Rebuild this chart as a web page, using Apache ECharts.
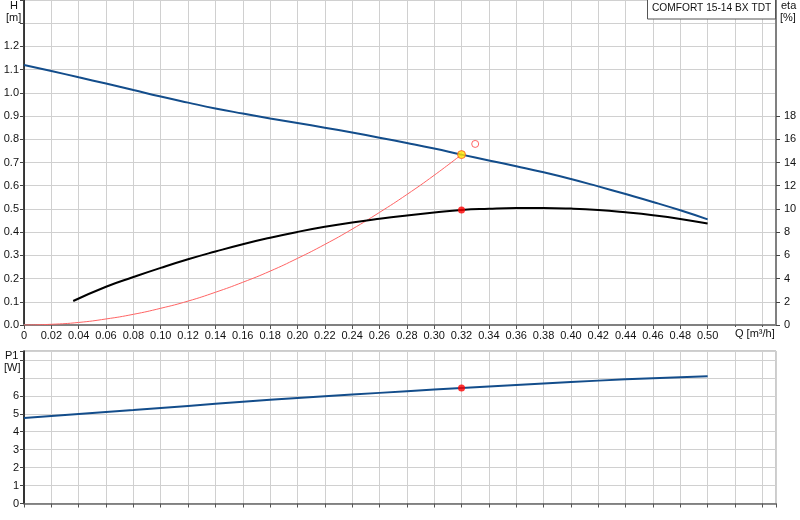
<!DOCTYPE html>
<html><head><meta charset="utf-8">
<script src="https://cdn.jsdelivr.net/npm/echarts@6/dist/echarts.min.js"></script>
<style>html,body{margin:0;padding:0;background:#fff}#c{width:800px;height:520px}</style>
</head><body><div id="c"></div>
<script>
// Pump curve H [m] vs Q [m3/h]
const qH = [0,0.02,0.04,0.06,0.08,0.10,0.12,0.14,0.16,0.18,0.20,0.22,0.24,0.26,0.28,0.30,0.32,0.34,0.36,0.38,0.40,0.42,0.44,0.46,0.48,0.50];
const hVals = [1.120,1.094,1.067,1.040,1.012,0.984,0.958,0.933,0.911,0.890,0.870,0.850,0.829,0.807,0.784,0.760,0.734,0.709,0.684,0.658,0.629,0.597,0.564,0.530,0.494,0.455];
// Efficiency eta [%]
const qEta = [0.036,0.06,0.08,0.10,0.12,0.14,0.16,0.18,0.20,0.22,0.24,0.26,0.28,0.30,0.32,0.34,0.36,0.38,0.40,0.42,0.44,0.46,0.48,0.50];
const etaVals = [2.07,3.30,4.13,4.92,5.66,6.33,6.96,7.52,8.02,8.46,8.84,9.16,9.44,9.69,9.91,10.01,10.07,10.08,10.03,9.91,9.71,9.46,9.14,8.74];
// System curve H [m]
const qSys = [0,0.02,0.04,0.06,0.08,0.10,0.12,0.14,0.16,0.18,0.20,0.22,0.24,0.26,0.28,0.30,0.32];
const sysVals = [0,0.003,0.011,0.026,0.046,0.072,0.103,0.141,0.184,0.232,0.287,0.347,0.413,0.485,0.562,0.645,0.734];
// Power P1 [W]
const qP = [0,0.04,0.08,0.12,0.16,0.20,0.24,0.28,0.32,0.36,0.40,0.44,0.48,0.50];
const pVals = [4.76,4.99,5.21,5.44,5.67,5.88,6.07,6.26,6.44,6.61,6.77,6.92,7.04,7.09];
// Duty point and requested point
const dutyQ = 0.32, dutyH = 0.734, dutyEta = 9.91, dutyP = 6.44;
const reqQ = 0.33, reqH = 0.78;
// Tick labels
const etaTicks = [0,2,4,6,8,10,12,14,16,18];
const titleText = 'COMFORT 15-14 BX TDT';

const zip = (xs, ys) => xs.map((x, i) => [x, ys[i]]);
const FONT = "'Liberation Sans', Arial, sans-serif";
const lab = {color:'#111', fontSize:11, fontFamily:FONT};
const splitL = {show:true, lineStyle:{color:'#d0d0d0', width:1}};

const chart = echarts.init(document.getElementById('c'), null, {renderer:'canvas'});
chart.setOption({
  animation:false,
  backgroundColor:'#fff',
  grid:[
    {left:24, right:24, top:0, height:325},
    {left:24, right:24, top:351, height:152.5, show:true, borderColor:'#999', borderWidth:1, backgroundColor:'transparent'}
  ],
  xAxis:[
    {gridIndex:0, type:'value', min:0, max:0.55, interval:0.02,
     axisLine:{show:true, onZero:false, lineStyle:{color:'#808080', width:2}},
     axisTick:{show:true, length:4, lineStyle:{color:'#555'}},
     axisLabel:Object.assign({margin:5, showMaxLabel:false, formatter:v => v===0 ? '0' : (v>0.5001 ? '' : v.toFixed(2))}, lab),
     splitLine:splitL},
    {gridIndex:1, type:'value', min:0, max:0.55, interval:0.02,
     axisLine:{show:true, onZero:false, lineStyle:{color:'#666', width:1.5}},
     axisTick:{show:true, length:4, lineStyle:{color:'#555'}},
     axisLabel:{show:false},
     splitLine:splitL}
  ],
  yAxis:[
    {gridIndex:0, type:'value', min:0, max:1.4, interval:0.1,
     axisLine:{show:true, lineStyle:{color:'#000', width:1.5}},
     axisTick:{show:true, length:4, lineStyle:{color:'#444'}},
     axisLabel:Object.assign({margin:5, formatter:v => v>1.2001 ? '' : v.toFixed(1)}, lab),
     splitLine:splitL},
    {gridIndex:0, type:'value', min:0, max:28, interval:2, position:'right',
     axisLine:{show:true, lineStyle:{color:'#808080', width:2}},
     axisTick:{show:true, length:4, customValues:etaTicks, lineStyle:{color:'#444'}},
     axisLabel:Object.assign({margin:8, customValues:etaTicks, formatter:v => String(v)}, lab),
     splitLine:{show:false}},
    {gridIndex:1, type:'value', min:0, max:8.5, interval:1,
     axisLine:{show:true, lineStyle:{color:'#000', width:1.5}},
     axisTick:{show:true, length:4, lineStyle:{color:'#444'}},
     axisLabel:Object.assign({margin:5, formatter:v => v>6.01 ? '' : String(v)}, lab),
     splitLine:splitL}
  ],
  series:[
    {type:'line', xAxisIndex:0, yAxisIndex:0, data:zip(qSys, sysVals), smooth:true, showSymbol:false,
     lineStyle:{color:'#ff6464', width:1}, z:3},
    {type:'line', xAxisIndex:0, yAxisIndex:0, data:zip(qH, hVals), smooth:true, showSymbol:false,
     lineStyle:{color:'#134d8b', width:2}, z:4},
    {type:'line', xAxisIndex:0, yAxisIndex:1, data:zip(qEta, etaVals), smooth:true, showSymbol:false,
     lineStyle:{color:'#000', width:2}, z:4},
    {type:'line', xAxisIndex:1, yAxisIndex:2, data:zip(qP, pVals), smooth:true, showSymbol:false,
     lineStyle:{color:'#134d8b', width:2}, z:4},
    {type:'scatter', xAxisIndex:0, yAxisIndex:0, data:[[dutyQ, dutyH]], symbolSize:8,
     itemStyle:{color:'#ffe600', borderColor:'#ff5020', borderWidth:1}, z:6},
    {type:'scatter', xAxisIndex:0, yAxisIndex:0, data:[[reqQ, reqH]], symbolSize:7,
     itemStyle:{color:'#fff', borderColor:'#ff4040', borderWidth:1}, z:6},
    {type:'scatter', xAxisIndex:0, yAxisIndex:1, data:[[dutyQ, dutyEta]], symbolSize:7,
     itemStyle:{color:'#ff0000'}, z:6},
    {type:'scatter', xAxisIndex:1, yAxisIndex:2, data:[[dutyQ, dutyP]], symbolSize:7,
     itemStyle:{color:'#ff0000'}, z:6}
  ],
  graphic:[
    {type:'text', left:10, top:0, style:{text:'H', font:'11px '+FONT, fill:'#111'}},
    {type:'text', left:6, top:12, style:{text:'[m]', font:'11px '+FONT, fill:'#111'}},
    {type:'text', left:781, top:0, style:{text:'eta', font:'11px '+FONT, fill:'#111'}},
    {type:'text', left:780, top:12, style:{text:'[%]', font:'11px '+FONT, fill:'#111'}},
    {type:'text', left:5, top:350, style:{text:'P1', font:'11px '+FONT, fill:'#111'}},
    {type:'text', left:4, top:362, style:{text:'[W]', font:'11px '+FONT, fill:'#111'}},
    {type:'rect', shape:{x:647.5, y:-0.5, width:128, height:19.5}, style:{fill:'#fff', stroke:'#555', lineWidth:1}, z:10},
    {type:'text', left:652, top:3, style:{text:titleText, font:'10.2px '+FONT, fill:'#111'}, z:11},
    {type:'rect', shape:{x:733, y:327, width:42, height:14}, style:{fill:'#fff'}, z:10},
    {type:'text', left:735, top:328, style:{text:'Q [m\u00B3/h]', font:'11px '+FONT, fill:'#111'}, z:11}
  ]
});
</script>
</body></html>
